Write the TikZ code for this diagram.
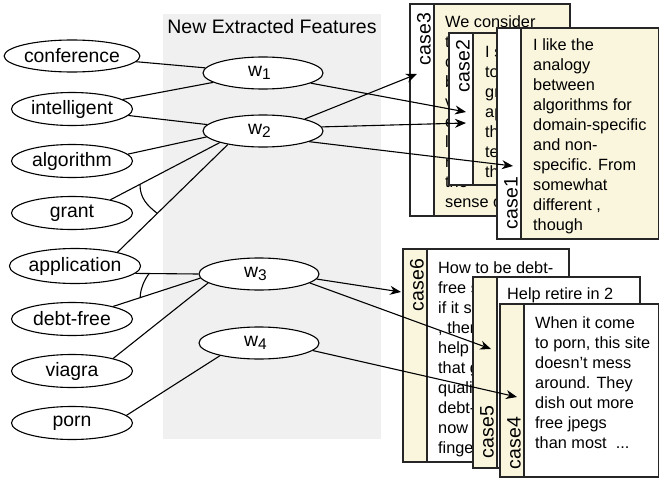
\documentclass[tikz,border=0pt]{standalone}
\usepackage{fontspec}
\setmainfont{Liberation Sans}
\usetikzlibrary{shapes.geometric,arrows.meta}
\definecolor{cream}{RGB}{250,246,222}
\definecolor{bggrey}{RGB}{240,240,240}
\newcommand\wlab[1]{w\raisebox{-3pt}{\fontsize{15.5}{16}\selectfont #1}\hspace*{7pt}}
\begin{document}
\begin{tikzpicture}[x=1pt,y=-1pt,
  term/.style={ellipse,draw=black,fill=white,line width=1.1pt,minimum width=121pt,minimum height=33pt,inner sep=0pt,font=\fontsize{19.4}{23}\selectfont},
  feat/.style={ellipse,draw=black,fill=white,line width=1.1pt,minimum width=120pt,minimum height=32pt,inner sep=0pt,font=\fontsize{19.4}{23}\selectfont},
  link/.style={draw=black,line width=1.1pt},
  arr/.style={draw=black,line width=1.1pt,-{Stealth[length=11pt,width=9pt,inset=3.5pt]}},
  cardbox/.style={draw=black!85,line width=1.1pt},
  cardtext/.style={anchor=north west,inner sep=0pt,align=left,font=\fontsize{16.3}{20}\selectfont},
  caselabel/.style={rotate=90,inner sep=0pt,font=\fontsize{19.5}{22}\selectfont}
]
\useasboundingbox (0,0) rectangle (659,479);
\fill[bggrey] (163,14) rectangle (381,439);
\node[anchor=base,font=\fontsize{19.5}{23}\selectfont] (title) at (272,34) {New Extracted Features};

% terms
\node[term,minimum width=135pt,minimum height=32pt] (conference) at (72,56) {conference};
\node[term] (intelligent) at (72,109) {intelligent};
\node[term] (algorithm) at (72,161) {algorithm};
\node[term] (grant) at (72,213) {grant};
\node[term,minimum height=35pt] (application) at (75,266) {application};
\node[term] (debtfree) at (72,319) {debt-free};
\node[term] (viagra) at (72,371) {viagra};
\node[term] (porn) at (72,423) {porn};

% features
\node[feat] (w1) at (263,73) {\wlab{1}};
\node[feat] (w2) at (263,131) {\wlab{2}};
\node[feat] (w3) at (259,274) {\wlab{3}};
\node[feat] (w4) at (259,343) {\wlab{4}};

% links
\draw[link] (conference) -- (w1);
\draw[link] (intelligent) -- (w1);
\draw[link] (intelligent) -- (w2);
\draw[link] (algorithm.7) -- (w2.186);
\draw[link] (grant.19) -- coordinate[pos=0.27] (arcA1) (w2.195);
\draw[link] (application.18) -- coordinate[pos=0.36] (arcA2) (w2.201);
\draw[link] (application.-7) -- coordinate[pos=0.22] (arcB1) (w3.180);
\draw[link] (debtfree.17) -- coordinate[pos=0.31] (arcB2) (w3.184);
\draw[link] (viagra.17) -- (w3.190);
\draw[link] (porn.8) -- (w4.198);
\draw[link] (arcA1) .. controls +(0,14) and +(-10,-8) .. (arcA2);
\draw[link] (arcB1) .. controls +(-5,6) and +(0,-8) .. (arcB2);

% case3
\draw[cardbox,fill=cream] (410,4) rectangle (570,216);
\draw[cardbox,fill=white] (410,4) rectangle (434,216);
\node[caselabel] (l3) at (424,39) {case3};
\node[cardtext] (t3) at (445,13) {\strut We consider\\ t\\ c\\ b\\ v\\ e\\ l\\ r\\ the\\ sense of};
% case2
\draw[cardbox,fill=cream] (449,33) rectangle (609,185);
\draw[cardbox,fill=white] (449,33) rectangle (473,185);
\node[caselabel] (l2) at (463,66) {case2};
\node[cardtext] (t2) at (485,43) {\strut I s\\ to\\ gr\\ ap\\ th\\ te\\ th};
% case1
\draw[cardbox,fill=cream] (497,28) rectangle (658.5,239);
\draw[cardbox,fill=white] (497,28) rectangle (521,239);
\node[caselabel] (l1) at (511,203) {case1};
\node[cardtext] (t1) at (533,36) {\strut I like the\\ analogy\\ between\\ algorithms for\\ domain-specific\\ and non-\\ specific. From\\ somewhat\\ different ,\\ though};

% case6
\draw[cardbox,fill=white] (403,249) rectangle (569,462);
\draw[cardbox,fill=cream] (403,249) rectangle (427,462);
\node[caselabel] (l6) at (417,285) {case6};
\node[cardtext] (t6) at (438,259) {\strut How to be debt-\\ free s\\ if it se\\ , ther\\ help\\ that g\\ quali\\ debt-\\ now s\\ finge};
% case5
\draw[cardbox,fill=white] (473,277) rectangle (640,468);
\draw[cardbox,fill=cream] (473,277) rectangle (497,468);
\node[caselabel] (l5) at (487,432) {case5};
\node[cardtext] (t5) at (507,285) {\strut Help retire in 2};
% case4
\draw[cardbox,fill=white] (500,304) rectangle (658.5,477);
\draw[cardbox,fill=cream] (500,304) rectangle (524,477);
\node[caselabel] (l4) at (514,443) {case4};
\node[cardtext] (t4) at (535,314) {\strut When it come\\ to porn, this site\\ doesn’t mess\\ around. They\\ dish out more\\ free jpegs\\ than most \ ...};

% arrows
\coordinate (tip3) at (417,74);
\coordinate (tip2a) at (466,112);
\coordinate (tip2b) at (466,123);
\coordinate (tip1) at (513,166);
\coordinate (tip6) at (401,292);
\coordinate (tip5) at (491,349);
\coordinate (tip4) at (517,397);
\draw[arr] (w1.348) -- (tip2a);
\draw[arr] (w2.16) -- (tip3);
\draw[arr] (w2.4) -- (tip2b);
\draw[arr] (w2.347) -- (tip1);
\draw[arr] (w3.355) -- (tip6);
\draw[arr] (w3.350) -- (tip5);
\draw[arr] (w4.352) -- (tip4);
\end{tikzpicture}
\end{document}
